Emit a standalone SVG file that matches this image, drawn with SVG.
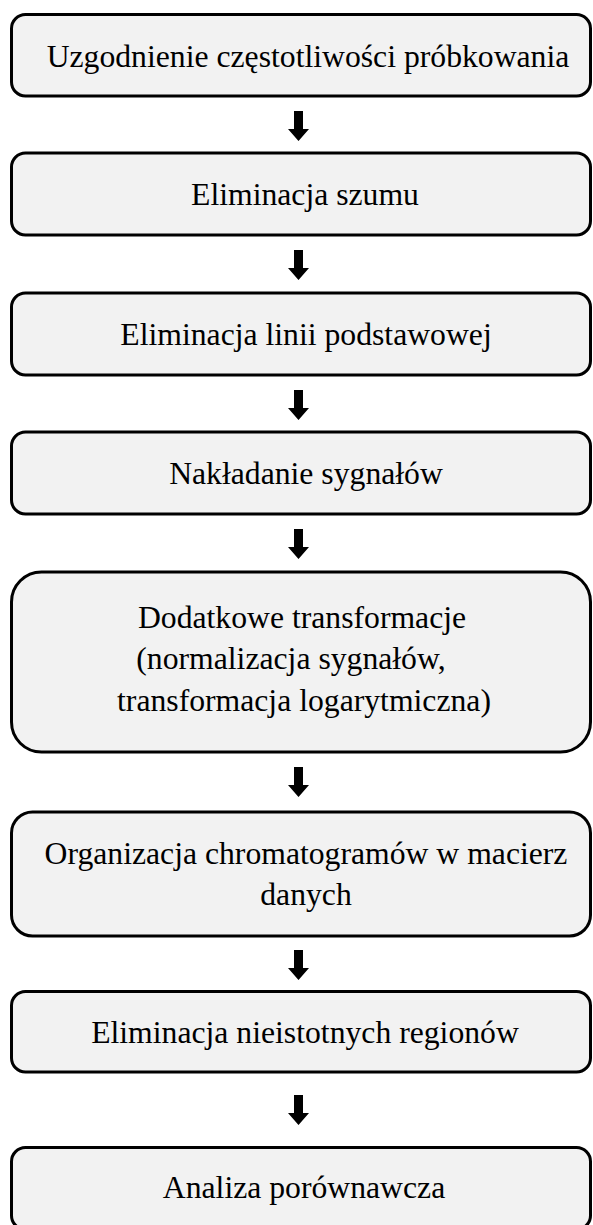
<svg xmlns="http://www.w3.org/2000/svg" width="593" height="1225" viewBox="0 0 593 1225">
<style>
.box{fill:#f2f2f2;stroke:#000;stroke-width:3}
.lbl{font-family:"Liberation Serif","Times New Roman",serif;font-size:31.7px;fill:#000;text-anchor:middle}
.arr{fill:#000}
</style>
<rect width="593" height="1225" fill="#fff"/>
<g id="n1"><rect class="box" x="11.5" y="14.5" width="579" height="81.5" rx="14"/><text class="lbl" x="308" y="67">Uzgodnienie częstotliwości próbkowania</text></g>
<g id="n2"><rect class="box" x="11.5" y="153" width="579" height="82" rx="14"/><text class="lbl" x="305" y="205">Eliminacja szumu</text></g>
<g id="n3"><rect class="box" x="11.5" y="293" width="579" height="82" rx="14"/><text class="lbl" x="306" y="345">Eliminacja linii podstawowej</text></g>
<g id="n4"><rect class="box" x="11.5" y="432" width="579" height="82" rx="14"/><text class="lbl" x="306" y="484">Nakładanie sygnałów</text></g>
<g id="n5"><rect class="box" x="11.5" y="572" width="579" height="180" rx="30"/><text class="lbl" x="302" y="628">Dodatkowe transformacje</text><text class="lbl" x="291" y="669">(normalizacja sygnałów,</text><text class="lbl" x="304" y="711">transformacja logarytmiczna)</text></g>
<g id="n6"><rect class="box" x="11.5" y="812" width="579" height="124" rx="21"/><text class="lbl" x="306" y="864">Organizacja chromatogramów w macierz</text><text class="lbl" x="306" y="905">danych</text></g>
<g id="n7"><rect class="box" x="11.5" y="991.5" width="579" height="80.5" rx="14"/><text class="lbl" x="305" y="1043">Eliminacja nieistotnych regionów</text></g>
<g id="n8"><rect class="box" x="11.5" y="1147.5" width="579" height="82" rx="14"/><text class="lbl" x="304" y="1198">Analiza porównawcza</text></g>
<g id="connectors">
<polygon class="arr" points="294,111 303,111 303,129 309,129 298.5,141 288,129 294,129"/>
<polygon class="arr" points="294,250 303,250 303,268 309,268 298.5,280 288,268 294,268"/>
<polygon class="arr" points="294,390 303,390 303,408 309,408 298.5,420 288,408 294,408"/>
<polygon class="arr" points="294,529 303,529 303,547 309,547 298.5,559 288,547 294,547"/>
<polygon class="arr" points="294,767 303,767 303,785 309,785 298.5,797 288,785 294,785"/>
<polygon class="arr" points="294,950 303,950 303,968 309,968 298.5,980 288,968 294,968"/>
<polygon class="arr" points="294,1095 303,1095 303,1113 309,1113 298.5,1125 288,1113 294,1113"/>
</g>
</svg>
